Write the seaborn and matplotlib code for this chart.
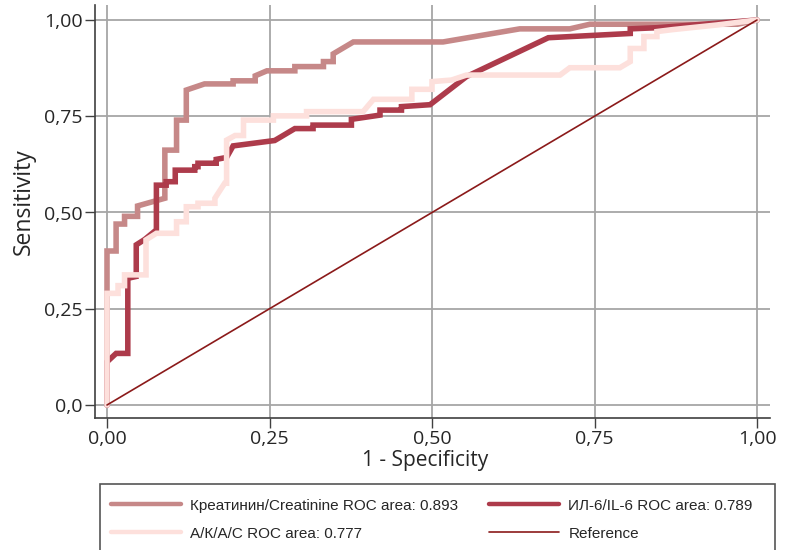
import matplotlib
matplotlib.use("Agg")
import matplotlib.pyplot as plt
import seaborn as sns
import pandas as pd
from matplotlib.patches import Rectangle
from matplotlib.lines import Line2D

# ---- data ----
creat_x = [0.0, 0.0, 0.0, 0.014, 0.014, 0.027, 0.027, 0.047, 0.047, 0.089, 0.089, 0.107, 0.107,
           0.122, 0.122, 0.150, 0.194, 0.194, 0.228, 0.228, 0.246, 0.289, 0.289, 0.333, 0.333,
           0.348, 0.348, 0.379, 0.517, 0.635, 0.712, 0.743, 0.970, 1.0]
creat_y = [0.0, 0.29, 0.40, 0.40, 0.47, 0.47, 0.49, 0.49, 0.517, 0.537, 0.662, 0.662, 0.74,
           0.74, 0.818, 0.834, 0.834, 0.842, 0.842, 0.855, 0.868, 0.868, 0.879, 0.879, 0.892,
           0.892, 0.912, 0.943, 0.943, 0.977, 0.977, 0.989, 0.989, 1.0]

il6_x = [0.0, 0.0, 0.014, 0.032, 0.032, 0.048, 0.045, 0.045, 0.058, 0.076, 0.076, 0.091, 0.091,
         0.105, 0.105, 0.135, 0.135, 0.140, 0.140, 0.168, 0.168, 0.184, 0.194, 0.258, 0.289,
         0.317, 0.317, 0.376, 0.376, 0.420, 0.420, 0.453, 0.453, 0.497, 0.553, 0.679, 0.805,
         0.805, 0.846, 0.917, 1.0]
il6_y = [0.0, 0.112, 0.134, 0.134, 0.329, 0.335, 0.335, 0.416, 0.43, 0.455, 0.571, 0.571, 0.58,
         0.58, 0.61, 0.61, 0.619, 0.619, 0.628, 0.628, 0.638, 0.643, 0.673, 0.687, 0.718,
         0.718, 0.727, 0.727, 0.742, 0.753, 0.766, 0.766, 0.775, 0.78, 0.853, 0.954, 0.965,
         0.977, 0.98, 0.989, 1.0]

akac_x = [0.0, 0.0, 0.017, 0.017, 0.027, 0.027, 0.060, 0.060, 0.076, 0.107, 0.107, 0.122, 0.122,
          0.140, 0.140, 0.166, 0.166, 0.181, 0.184, 0.184, 0.197, 0.210, 0.210, 0.256, 0.256,
          0.307, 0.307, 0.394, 0.410, 0.469, 0.469, 0.500, 0.500, 0.530, 0.553, 0.697, 0.712,
          0.789, 0.805, 0.805, 0.826, 0.826, 0.846, 0.846, 0.870, 0.938, 1.0]
akac_y = [0.0, 0.29, 0.29, 0.31, 0.31, 0.338, 0.338, 0.429, 0.446, 0.446, 0.476, 0.476, 0.515,
          0.515, 0.524, 0.524, 0.537, 0.576, 0.576, 0.688, 0.70, 0.70, 0.74, 0.74, 0.751,
          0.751, 0.762, 0.762, 0.794, 0.794, 0.82, 0.82, 0.84, 0.844, 0.857, 0.857, 0.876,
          0.876, 0.892, 0.926, 0.926, 0.957, 0.957, 0.97, 0.975, 0.987, 1.0]

ref_x = [0.0, 1.0]
ref_y = [0.0, 1.0]

labels = ["Креатинин/Creatinine ROC area: 0.893", "ИЛ-6/IL-6 ROC area: 0.789",
          "А/К/A/C ROC area: 0.777", "Reference"]
xticks = [0.0, 0.25, 0.5, 0.75, 1.0]
xticklabels = ["0,00", "0,25", "0,50", "0,75", "1,00"]
yticks = [0.0, 0.25, 0.5, 0.75, 1.0]
yticklabels = ["0,0", "0,25", "0,50", "0,75", "1,00"]

colors = ["#c68888", "#ad3b4b", "#fde0dc", "#8b1a1a"]
widths = [4.0, 4.0, 4.0, 1.2]

sns.set_style("white")
plt.rcParams["font.family"] = ["Open Sans", "DejaVu Sans"]

fig = plt.figure(figsize=(7.89, 5.5), dpi=100)
ax = fig.add_axes([95/789, 1-418/550, (770-95)/789, (418-5)/550])

series = [(creat_x, creat_y), (il6_x, il6_y), (akac_x, akac_y), (ref_x, ref_y)]
for i, (xs, ys) in enumerate(series):
    df = pd.DataFrame({"x": xs, "y": ys})
    sns.lineplot(data=df, x="x", y="y", sort=False, estimator=None, ax=ax,
                 color=colors[i], linewidth=widths[i], zorder=3 + i,
                 solid_joinstyle="miter" if i < 3 else "round")

ax.set_xlim((95-107)/650, (770-107)/650)
ax.set_ylim((405-418)/385, (405-5)/385)
ax.set_xticks(xticks)
ax.set_xticklabels(xticklabels)
ax.set_yticks(yticks)
ax.set_yticklabels(yticklabels)
ax.grid(True, color="#a6a6a6", linewidth=1.3, zorder=0)
ax.set_axisbelow(True)
for s in ["top", "right"]:
    ax.spines[s].set_visible(False)
for s in ["left", "bottom"]:
    ax.spines[s].set_color("#404040")
    ax.spines[s].set_linewidth(1.2)
ax.tick_params(axis="both", direction="out", length=7, width=1.0, color="#404040",
               labelsize=14, pad=2, left=True, bottom=True)
ax.set_xlabel("1 - Specificity", fontsize=15)
ax.set_ylabel("Sensitivity", fontsize=16.5)
ax.xaxis.set_label_coords((425-95)/675, -0.078)
ax.yaxis.set_label_coords(-0.087, 0.525)

# legend box (extends past the bottom edge)
fig.patches.append(Rectangle((100/789, -0.05), 675/789, (550-484)/550 + 0.05,
                             transform=fig.transFigure, fill=False,
                             edgecolor="#555555", linewidth=1.2))
handles = [Line2D([], [], color=colors[k], linewidth=(3.2 if k < 3 else 1.2)) for k in [0, 2, 1, 3]]
hlabels = [labels[k] for k in [0, 2, 1, 3]]
fig.legend(handles, hlabels, loc="upper left", bbox_to_anchor=(97/789, 1-485/550),
           ncol=2, frameon=False, handlelength=4.6, handletextpad=0.6,
           columnspacing=2.0, labelspacing=0.9,
           prop={"family": ["Liberation Sans", "DejaVu Sans"], "size": 11})

fig.savefig("out.png", dpi=100)
